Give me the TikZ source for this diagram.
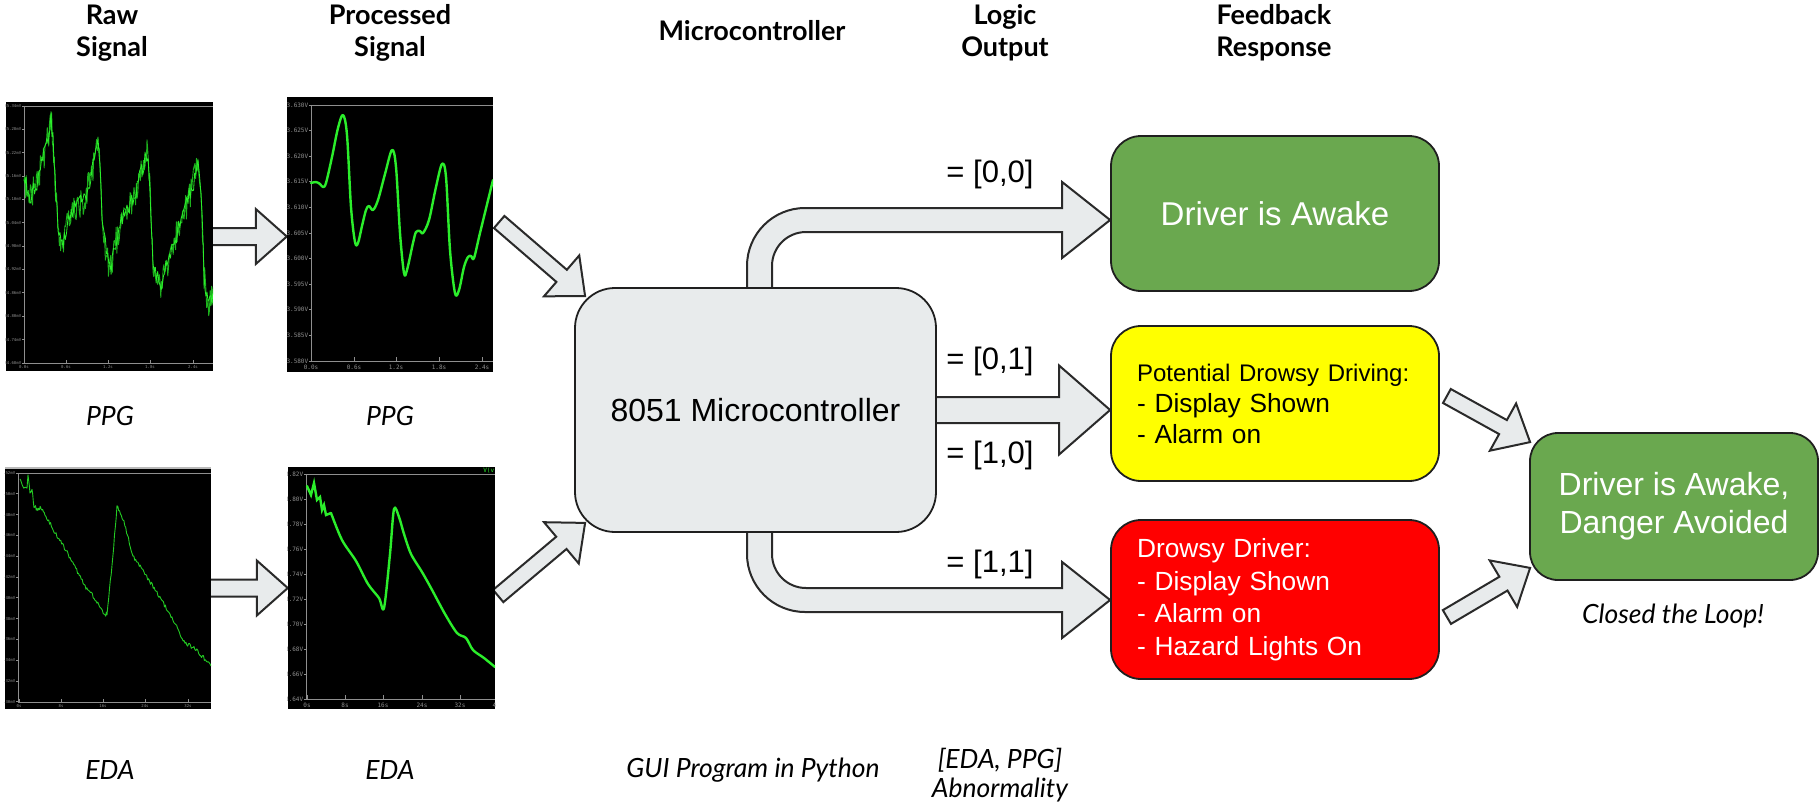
\documentclass[tikz,border=0pt]{standalone}
\usepackage{fontspec}
\setmainfont{Liberation Sans}
\newfontfamily\latofont{Lato}
\newfontfamily\tickfont{DejaVu Sans Mono}
\usetikzlibrary{calc}
\pgfdeclarelayer{bg}
\pgfdeclarelayer{arrows}
\pgfsetlayers{bg,arrows,main}

\definecolor{arrowfill}{HTML}{E8EBEC}
\definecolor{arrowline}{HTML}{2A2A2A}
\definecolor{okgreen}{HTML}{6AA84F}
\definecolor{warnyellow}{HTML}{FFFF00}
\definecolor{alertred}{HTML}{FF0000}
\definecolor{trace}{HTML}{2BEE2B}
\definecolor{tracedark}{HTML}{1DB21D}
\definecolor{axisgray}{HTML}{8F8F8F}

% block arrow: [style]{start}{tip}{shaft half width}{head half width}{head length}
\newcommand\blockarrow[6][]{%
  \coordinate (ba-base) at ($(#3)!#6!(#2)$);
  \filldraw[barrow,#1]
    ($(#2)!#4!90:(#3)$) -- ($(ba-base)!#4!90:(#3)$) -- ($(ba-base)!#5!90:(#3)$)
    -- (#3) -- ($(ba-base)!#5!-90:(#3)$) -- ($(ba-base)!#4!-90:(#3)$)
    -- ($(#2)!#4!-90:(#3)$) -- cycle;}

% noisy polyline: [style]{first x}{first y}{vertical noise}{x step}{x/y list}
\newcommand\noisytrace[6][]{%
  \draw[#1] (#2,#3) \foreach \px/\py [remember=\px as \lx (initially #2),
      remember=\py as \ly (initially #3),
      evaluate=\px as \nn using {int(abs(\px-\lx)/#5)+1}] in {#6} {
    \foreach \k in {1,...,\nn} {
      -- ({\lx+(\px-\lx)*\k/\nn}, {\ly+(\py-\ly)*\k/\nn+#4*(rnd-0.5)})
    }
  };}

\tikzset{
  barrow/.style={fill=arrowfill, draw=arrowline, line width=2pt, line join=miter},
  panel/.style={draw=black!88, line width=1.8pt, inner sep=0pt},
  header/.style={font=\latofont\bfseries\fontsize{27}{32}\selectfont, align=center},
  capt/.style={font=\latofont\itshape\fontsize{26.5}{30}\selectfont, align=center},
  lbl/.style={font=\fontsize{31}{36}\selectfont},
  plotbox/.style={fill=black, inner sep=0pt},
  axisln/.style={draw=axisgray, line width=0.8pt},
  ticklbl/.style={text=axisgray, inner sep=0.6pt},
  smoothtrace/.style={draw=trace, line width=2.4pt, line join=round, line cap=round},
}

\begin{document}
\begin{tikzpicture}[x=1pt, y=-1pt]
\useasboundingbox (0,0) rectangle (1820,804);
\begin{pgfonlayer}{bg}
  \fill[white] (0,0) rectangle (1820,804);
\end{pgfonlayer}
\pgfmathsetseed{42}

% ---------- column headers ----------
\node[header] (hraw)   at (112,33)  {Raw\\Signal};
\node[header] (hproc)  at (390,33)  {Processed\\Signal};
\node[header] (hmcu)   at (752,31)  {Microcontroller};
\node[header] (hlogic) at (1005,33) {Logic\\Output};
\node[header] (hfeed)  at (1274,33) {Feedback\\Response};

% ---------- oscilloscope panels ----------
\node[plotbox, minimum width=207pt, minimum height=269pt] (rawppg)  at (109.5,236.5) {};
\node[plotbox, minimum width=206pt, minimum height=275pt] (procppg) at (390,234.5) {};
\node[plotbox, minimum width=206pt, minimum height=242pt] (raweda)  at (108,588) {};
\node[plotbox, minimum width=207pt, minimum height=242pt] (proceda) at (391.5,588) {};

% raw PPG
\begin{scope}
  \clip (rawppg.north west) rectangle (rawppg.south east);
  \draw[axisln] (24,106) -- (213,106);
  \draw[axisln] (24,106) -- (24,363) -- (213,363);
  \foreach \val [count=\idx from 0] in {35.34,35.28,35.22,35.16,35.10,35.04,34.98,34.92,34.86,34.80,34.74,34.68}{
    \draw[axisln] (22,{106+\idx*23.36}) -- (24,{106+\idx*23.36});
    \node[ticklbl, anchor=east, font=\tickfont\fontsize{4}{4}\selectfont] at (22,{106+\idx*23.36}) {\val mV};
  }
  \foreach \lab/\xx in {0.0s/24,0.6s/66,1.2s/108,1.8s/150,2.4s/193}{
    \draw[axisln] (\xx,363) -- (\xx,360);
    \node[ticklbl, font=\tickfont\fontsize{4}{4}\selectfont] at (\xx,367.5) {\lab};
  }
  \foreach \col/\amp/\stp/\wd in {tracedark/30/0.8/0.9, trace/18/1.2/0.8}{
    \noisytrace[\col, line width=\wd pt, line join=round]{24}{180}{\amp}{\stp}{
      27/188, 31/197, 38/180, 45/150, 51/120, 53/140, 55/174, 58/227, 62/247, 70/214, 84/200,
      93/167, 98/143, 100/167, 103/234, 110/271, 120/224, 134/200, 145/160, 147/153, 149/167,
      153/264, 160/287, 174/241, 188/200, 198/167, 201/187, 204/274, 208/304, 213/294}
  }
\end{scope}

% processed PPG
\begin{scope}
  \clip (procppg.north west) rectangle (procppg.south east);
  \draw[axisln] (311,105) -- (493,105);
  \draw[axisln] (311,105) -- (311,361) -- (493,361);
  \foreach \val [count=\idx from 0] in {3.630,3.625,3.620,3.615,3.610,3.605,3.600,3.595,3.590,3.585,3.580}{
    \draw[axisln] (309,{105+\idx*25.6}) -- (311,{105+\idx*25.6});
    \node[ticklbl, anchor=east, font=\tickfont\fontsize{6}{6}\selectfont] at (309,{105+\idx*25.6}) {\val V};
  }
  \foreach \lab/\xx in {0.0s/311,0.6s/354,1.2s/396,1.8s/439,2.4s/482}{
    \draw[axisln] (\xx,361) -- (\xx,357);
    \node[ticklbl, font=\tickfont\fontsize{6}{6}\selectfont] at (\xx,367) {\lab};
  }
  \draw[smoothtrace] plot[smooth, tension=0.55] coordinates {
    (311,183) (316,182) (320,184) (323,187) (326,183) (332,157) (338,128) (343,115) (347,135)
    (351,207) (355,242) (358,243) (362,226) (366,210) (369,206) (373,210) (378,200) (385,174)
    (392,150) (396,167) (400,233) (404,273) (407,270) (413,243) (416,232) (420,231) (423,233)
    (429,220) (436,187) (442,164) (446,177) (450,250) (455,293) (459,290) (464,267) (468,257)
    (471,256) (474,258) (480,233) (493,180)};
\end{scope}

% raw EDA
\begin{scope}
  \clip (raweda.north west) rectangle (raweda.south east);
  \draw[gray!55, line width=2pt] (5,468) -- (211,468);
  \draw[axisln] (18,473) -- (211,473);
  \draw[axisln] (18,473) -- (18,702) -- (211,702);
  \foreach \val [count=\idx from 0] in {5.52,5.50,5.48,5.46,5.44,5.42,5.40,5.38,5.36,5.34,5.32,5.30}{
    \draw[axisln] (16,{473+\idx*20.8}) -- (18,{473+\idx*20.8});
    \node[ticklbl, anchor=east, font=\tickfont\fontsize{4}{4}\selectfont] at (16,{473+\idx*20.8}) {\val mV};
  }
  \foreach \lab/\xx in {0s/19,8s/61,16s/103,24s/145,32s/188}{
    \draw[axisln] (\xx,702) -- (\xx,699);
    \node[ticklbl, font=\tickfont\fontsize{4}{4}\selectfont] at (\xx,706) {\lab};
  }
  \noisytrace[tracedark!60!trace, line width=0.9pt, line join=round]{20}{479}{4}{1}{
    23/487, 27/489, 28/474, 30/494, 32/489, 34/506, 37/509, 41/507, 45/514, 57/536, 71/559,
    85/586, 96/600, 105/615, 107/613, 112/566, 117/506, 123/519, 133/556, 142/569, 157/593,
    171/616, 185/643, 194/648, 211/665}
\end{scope}

% processed EDA
\begin{scope}
  \clip (proceda.north west) rectangle (proceda.south east);
  \draw[axisln] (306,474) -- (495,474);
  \draw[axisln] (306,474) -- (306,699) -- (495,699);
  \foreach \val [count=\idx from 0] in {3.82,3.80,3.78,3.76,3.74,3.72,3.70,3.68,3.66,3.64}{
    \draw[axisln] (304,{474+\idx*25}) -- (306,{474+\idx*25});
    \node[ticklbl, anchor=east, font=\tickfont\fontsize{6}{6}\selectfont] at (304,{474+\idx*25}) {\val V};
  }
  \foreach \lab/\xx in {0s/307,8s/345,16s/383,24s/422,32s/460,40s/498}{
    \draw[axisln] (\xx,699) -- (\xx,695);
    \node[ticklbl, font=\tickfont\fontsize{6}{6}\selectfont] at (\xx,705) {\lab};
  }
  \node[ticklbl, text=trace, anchor=north east, font=\tickfont\fontsize{6}{6}\selectfont] at (495,467.5) {V(v};
  \draw[smoothtrace, line join=miter] (307,486) -- (311,495) -- (314,483) -- (317,500) -- (320,497)
    -- (322,510) -- (324,505) -- (326,515) -- (331,513);
  \draw[smoothtrace] plot[smooth, tension=0.5] coordinates {
    (331,513) (342,540) (356,561) (368,584) (379,598) (384,608) (390,554) (394,509) (399,517)
    (404,534) (411,554) (422,572) (431,588) (445,614) (457,633) (466,638) (473,650) (484,658) (495,667)};
\end{scope}

% ---------- captions ----------
\node[capt] (cppg1) at (110,416) {PPG};
\node[capt] (cppg2) at (390,416) {PPG};
\node[capt] (ceda1) at (110,770) {EDA};
\node[capt] (ceda2) at (390,770) {EDA};
\node[capt] (cgui)  at (753,770) {GUI Program in Python};
\node[capt, font=\latofont\itshape\fontsize{26.5}{29}\selectfont] (cabn) at (1000,775) {[EDA, PPG]\\Abnormality};
\node[capt] (cloop) at (1673,616) {Closed the Loop!};

% ---------- microcontroller and responses ----------
\node[panel, fill=arrowfill, rounded corners=40pt, minimum width=361pt, minimum height=244pt,
      font=\fontsize{32}{38}\selectfont] (micro) at (755.5,410) {8051 Microcontroller};

\node[panel, fill=okgreen, rounded corners=30pt, minimum width=328pt, minimum height=155pt,
      text=white, font=\fontsize{33}{38}\selectfont] (awake) at (1275,213.5) {Driver is Awake};

\node[panel, fill=warnyellow, rounded corners=30pt, minimum width=328pt, minimum height=155pt,
      text width=276pt, align=left, font=\fontsize{26.3}{31}\selectfont] (potential) at (1275,403.5)
      {{\fontsize{24}{30}\selectfont Potential Drowsy Driving:}\\- Display Shown\\- Alarm on};

\node[panel, fill=alertred, rounded corners=30pt, minimum width=328pt, minimum height=159pt,
      text width=276pt, align=left, text=white, font=\fontsize{26.3}{32.5}\selectfont] (drowsy) at (1275,599.5)
      {Drowsy Driver:\\- Display Shown\\- Alarm on\\- Hazard Lights On};

\node[panel, fill=okgreen, rounded corners=28pt, minimum width=288pt, minimum height=147pt,
      text=white, align=center, font=\fontsize{32}{38}\selectfont] (safe) at (1674,506.5)
      {Driver is Awake,\\Danger Avoided};

% ---------- logic output labels ----------
\node[lbl] (l00) at (990,174) {= [0,0]};
\node[lbl] (l01) at (990,361) {= [0,1]};
\node[lbl] (l10) at (990,455) {= [1,0]};
\node[lbl] (l11) at (990,564) {= [1,1]};

% ---------- block arrows ----------
\begin{pgfonlayer}{arrows}
  % raw -> processed
  \coordinate (inA1) at ($(rawppg.east)+(-3,0)$);
  \coordinate (inB1) at (procppg.west |- rawppg.east);
  \blockarrow{inA1}{inB1}{8.5pt}{27.5pt}{31pt}
  \coordinate (inA2) at ($(raweda.east)+(-3,0)$);
  \coordinate (inB2) at (proceda.west |- raweda.east);
  \blockarrow{inA2}{inB2}{8.5pt}{27.5pt}{31pt}

  % processed -> microcontroller
  \coordinate (inC1) at ($(procppg.east)+(6,-12.5)$);
  \coordinate (inD1) at ($(micro.north west)+(11,9)$);
  \blockarrow{inC1}{inD1}{8pt}{27pt}{31pt}
  \coordinate (inC2) at ($(proceda.east)+(3,8)$);
  \coordinate (inD2) at ($(micro.south west)+(11,-10)$);
  \blockarrow{inC2}{inD2}{8pt}{27pt}{31pt}

  % microcontroller -> responses
  \coordinate (tipTop) at ($(awake.west)+(0,6.5)$);
  \coordinate (tipMid) at (potential.west |- micro.east);
  \coordinate (tipBot) at ($(drowsy.west)+(0,0.5)$);
  \coordinate (midStart) at ($(micro.east)+(-10,0)$);
  \blockarrow{midStart}{tipMid}{13pt}{44.5pt}{51pt}

  \coordinate (stemTop) at ($(micro.north)+(4,12)$);
  \coordinate (cornTop) at (stemTop |- tipTop);
  \filldraw[barrow] ($(stemTop)+(-12.5,0)$) -- ($(cornTop)+(-12.5,46)$)
    .. controls ($(cornTop)+(-12.5,14)$) and ($(cornTop)+(13.5,-12)$) .. ($(cornTop)+(45.5,-12)$)
    -- ($(tipTop)+(-48,-12)$) -- ($(tipTop)+(-48,-38)$) -- (tipTop) -- ($(tipTop)+(-48,38)$)
    -- ($(tipTop)+(-48,12)$) -- ($(cornTop)+(46.5,12)$)
    .. controls ($(cornTop)+(27.7,12)$) and ($(cornTop)+(12.5,27.2)$) .. ($(cornTop)+(12.5,46)$)
    -- ($(stemTop)+(12.5,0)$) -- cycle;

  \coordinate (stemBot) at ($(micro.south)+(4,-12)$);
  \coordinate (cornBot) at (stemBot |- tipBot);
  \filldraw[barrow] ($(stemBot)+(-12.5,0)$) -- ($(cornBot)+(-12.5,-46)$)
    .. controls ($(cornBot)+(-12.5,-14)$) and ($(cornBot)+(13.5,12)$) .. ($(cornBot)+(45.5,12)$)
    -- ($(tipBot)+(-48,12)$) -- ($(tipBot)+(-48,38)$) -- (tipBot) -- ($(tipBot)+(-48,-38)$)
    -- ($(tipBot)+(-48,-12)$) -- ($(cornBot)+(46.5,-12)$)
    .. controls ($(cornBot)+(27.7,-12)$) and ($(cornBot)+(12.5,-27.2)$) .. ($(cornBot)+(12.5,-46)$)
    -- ($(stemBot)+(12.5,0)$) -- cycle;

  % responses -> closed loop
  \coordinate (outA1) at ($(potential.east)+(7,-7.5)$);
  \coordinate (outB1) at ($(safe.north west)+(1,10)$);
  \blockarrow{outA1}{outB1}{8pt}{27pt}{31pt}
  \coordinate (outA2) at ($(drowsy.east)+(7,17.5)$);
  \coordinate (outB2) at ($(safe.south west)+(1,-13)$);
  \blockarrow{outA2}{outB2}{8pt}{27pt}{31pt}
\end{pgfonlayer}
\end{tikzpicture}
\end{document}
